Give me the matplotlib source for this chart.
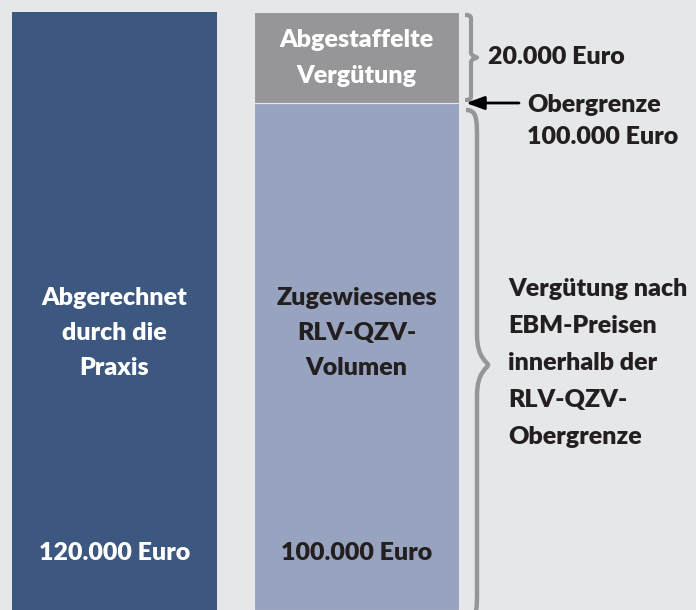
import matplotlib.pyplot as plt
from matplotlib.path import Path
from matplotlib.patches import PathPatch

# Werte (Euro)
abgerechnet = 120000
rlv_qzv_volumen = 100000
abgestaffelt = 20000

bar_labels = ['Abgerechnet\ndurch die\nPraxis', 'Zugewiesenes\nRLV-QZV-\nVolumen']
bar_sums = ['120.000 Euro', '100.000 Euro']
top_label = 'Abgestaffelte\nVergütung'
side_top = '20.000 Euro'
side_limit = 'Obergrenze\n100.000 Euro'
side_main = 'Vergütung nach\nEBM-Preisen\ninnerhalb der\nRLV-QZV-\nObergrenze'

BG = '#e6e7e9'
DARK = '#3c5780'
LIGHT = '#98a3bf'
GRAY = '#969698'
TXT = '#231f20'

W, H = 696, 610
plt.rcParams['font.family'] = ['Lato', 'DejaVu Sans']
plt.rcParams['font.weight'] = 'bold'

fig = plt.figure(figsize=(W / 100, H / 100), dpi=100, facecolor=BG)
ax = fig.add_axes([0, 0, 1, 1])
ax.set_facecolor(BG)

# Skala: 120.000 oben bei 12 px, 100.000 bei 103 px; Balken laufen unten aus dem Bild
eur_per_px = abgestaffelt / 91
y_top = abgerechnet + 12 * eur_per_px
y_bot = abgerechnet - (H - 12) * eur_per_px
ax.set_ylim(y_bot, y_top)
ax.set_xlim(-114.5 / 242, (W - 114.5) / 242)
ax.axis('off')

bw = 205 / 242
ax.bar(0, abgerechnet - y_bot, bottom=y_bot, width=bw, color=DARK)
ax.bar(1, rlv_qzv_volumen - y_bot, bottom=y_bot, width=bw, color=LIGHT,
       edgecolor=BG, linewidth=0.8)
ax.bar(1, abgestaffelt, bottom=rlv_qzv_volumen, width=bw, color=GRAY,
       edgecolor=BG, linewidth=0.8)


def px(x):
    return (x - 114.5) / 242


def brace(x_end, x_mid, x_tip, y0, y1, lw):
    # geschweifte Klammer von y0 (oben) bis y1 (unten), Spitze nach rechts
    ym = (y0 + y1) / 2
    d = abs(y0 - y1) * 0.06
    s = -1 if y0 > y1 else 1
    verts = [(x_end, y0),
             (x_mid, y0), (x_mid, y0 + s * d * 0.3), (x_mid, y0 + s * d),
             (x_mid, ym - s * d),
             (x_mid, ym - s * d * 0.2), (x_tip, ym - s * d * 0.1), (x_tip, ym),
             (x_tip, ym + s * d * 0.1), (x_mid, ym + s * d * 0.2), (x_mid, ym + s * d),
             (x_mid, y1 - s * d),
             (x_mid, y1 - s * d * 0.3), (x_mid, y1), (x_end, y1)]
    codes = [Path.MOVETO,
             Path.CURVE4, Path.CURVE4, Path.CURVE4,
             Path.LINETO,
             Path.CURVE4, Path.CURVE4, Path.CURVE4,
             Path.CURVE4, Path.CURVE4, Path.CURVE4,
             Path.LINETO,
             Path.CURVE4, Path.CURVE4, Path.CURVE4]
    ax.add_patch(PathPatch(Path(verts, codes), fill=False, edgecolor=GRAY,
                           lw=lw, capstyle='butt', joinstyle='round'))


gap = 3 * eur_per_px
brace(px(465), px(471), px(477), abgerechnet - gap, rlv_qzv_volumen + gap, 3)
brace(px(466), px(477), px(488), rlv_qzv_volumen - 7 * eur_per_px, y_bot - 10 * eur_per_px, 3.2)

# Pfeil auf die Obergrenze
ax.annotate('', xy=(px(466), rlv_qzv_volumen), xytext=(px(519), rlv_qzv_volumen),
            arrowprops=dict(arrowstyle='-|>,head_length=1.1,head_width=0.4',
                            color='black', lw=2, shrinkA=0, shrinkB=0))


def ftext(x, y, s, ls=1.73, **kw):
    fig.text(x / W, 1 - y / H, s, fontsize=18, fontweight='heavy',
             linespacing=ls, **kw)


ftext(114.5, 333, bar_labels[0], color='white', ha='center', va='center')
ftext(356.5, 333, bar_labels[1], color=TXT, ha='center', va='center')
ftext(114.5, 553, bar_sums[0], color='white', ha='center', va='center')
ftext(356.5, 553, bar_sums[1], color=TXT, ha='center', va='center')
ftext(356.5, 58, top_label, ls=1.76, color='white', ha='center', va='center')
ftext(488, 57, side_top, color=TXT, ha='left', va='center')
ftext(527, 121, side_limit, ls=1.6, color=TXT, ha='left', va='center')
ftext(508, 363, side_main, ls=1.82, color=TXT, ha='left', va='center')

fig.savefig('out.png', dpi=100, facecolor=BG)
